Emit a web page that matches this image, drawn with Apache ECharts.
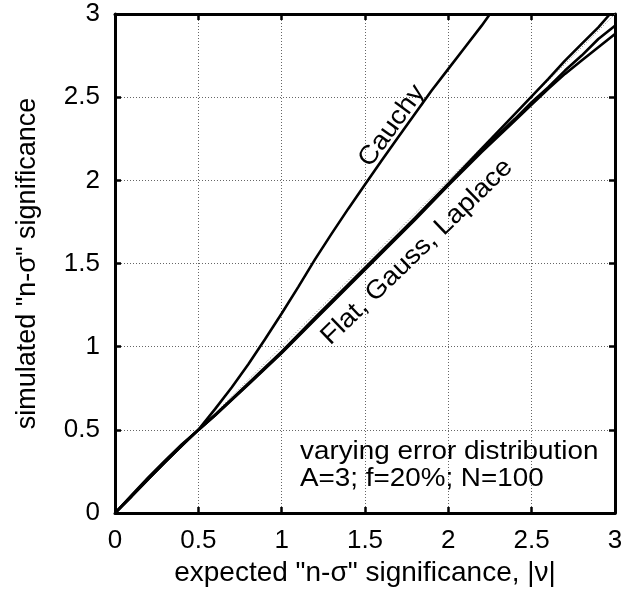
<!DOCTYPE html>
<html>
<head>
<meta charset="utf-8">
<script src="https://cdn.jsdelivr.net/npm/echarts@6/dist/echarts.min.js"></script>
<style>html,body{margin:0;padding:0;background:#fff;}#c{width:637px;height:592px;}</style>
</head>
<body>
<div id="c"></div>
<script>
// ---- data ----
const tickValues = [0, 0.5, 1, 1.5, 2, 2.5, 3];

const diagX = [0, 3];
const diagY = [0, 3];

const cauchyX = [0, 0.1, 0.2, 0.3, 0.4, 0.5, 0.6, 0.7, 0.8, 0.9, 1.0, 1.1, 1.2, 1.3, 1.4, 1.5, 1.6, 1.7, 1.8, 1.9, 2.0, 2.1, 2.2, 2.25];
const cauchyY = [0, 0.1, 0.205, 0.305, 0.405, 0.5, 0.625, 0.755, 0.895, 1.045, 1.2, 1.36, 1.525, 1.68, 1.83, 1.975, 2.12, 2.26, 2.40, 2.54, 2.67, 2.80, 2.93, 3.0];

const flatX = [0, 0.1, 0.2, 0.3, 0.4, 0.5, 0.6, 0.7, 0.8, 0.9, 1.0, 1.2, 1.4, 1.6, 1.8, 2.0, 2.2, 2.4, 2.5, 2.6, 2.7, 2.8, 2.9, 2.97];
const flatY = [0, 0.108, 0.215, 0.315, 0.412, 0.5, 0.59, 0.685, 0.78, 0.875, 0.97, 1.175, 1.375, 1.575, 1.775, 1.98, 2.19, 2.40, 2.505, 2.61, 2.72, 2.82, 2.92, 3.0];

const gaussX = [0, 0.1, 0.2, 0.3, 0.4, 0.5, 0.6, 0.7, 0.8, 0.9, 1.0, 1.2, 1.4, 1.6, 1.8, 2.0, 2.2, 2.4, 2.5, 2.6, 2.7, 2.8, 2.9, 3.0];
const gaussY = [0, 0.102, 0.205, 0.306, 0.405, 0.5, 0.588, 0.682, 0.776, 0.87, 0.965, 1.168, 1.368, 1.568, 1.768, 1.975, 2.18, 2.37, 2.47, 2.56, 2.66, 2.75, 2.85, 2.93];

const laplaceX = [0, 0.1, 0.2, 0.3, 0.4, 0.5, 0.6, 0.7, 0.8, 0.9, 1.0, 1.2, 1.4, 1.6, 1.8, 2.0, 2.2, 2.4, 2.5, 2.6, 2.7, 2.8, 2.9, 3.0];
const laplaceY = [0, 0.105, 0.21, 0.31, 0.408, 0.5, 0.586, 0.68, 0.773, 0.867, 0.962, 1.163, 1.363, 1.563, 1.763, 1.97, 2.17, 2.36, 2.455, 2.55, 2.64, 2.72, 2.80, 2.88];

const xTitle = 'expected "n-\u03c3" significance, |\u03bd|';
const yTitle = 'simulated "n-\u03c3" significance';
const cauchyLabel = 'Cauchy';
const mainLabel = 'Flat, Gauss, Laplace';
const noteLines = ['varying error distribution', 'A=3; f=20%; N=100'];

// ---- chart ----
const zip = (xs, ys) => xs.map((x, i) => [x, ys[i]]);
const FONT = 'Liberation Sans';
const chart = echarts.init(document.getElementById('c'), null, {renderer: 'canvas'});

const baseAxis = {
  min: 0, max: 3, interval: 0.5,
  axisLine: {show: true, onZero: false, lineStyle: {color: '#000', width: 3}},
  axisTick: {show: true, inside: true, length: 6, lineStyle: {color: '#000', width: 2.5}},
};

const lineSeries = (name, xs, ys) => ({
  name, type: 'line', data: zip(xs, ys), showSymbol: false, symbol: 'none',
  lineStyle: {color: '#000', width: 2.6}, z: 3, animation: false
});

const textStyle = (t, align) => ({text: t, fill: '#000', font: '26px "' + FONT + '"', textAlign: align, textVerticalAlign: 'middle'});

chart.setOption({
  animation: false,
  backgroundColor: '#fff',
  grid: {left: 115, top: 14, right: 22, bottom: 77, containLabel: false},
  xAxis: [
    Object.assign({}, baseAxis, {
      type: 'value', position: 'bottom',
      axisLabel: {color: '#000', fontFamily: FONT, fontSize: 26, margin: 15,
        formatter: v => tickValues.includes(v) ? String(v) : ''},
      splitLine: {show: true, lineStyle: {color: '#666', type: [1, 2], width: 1}},
      name: xTitle, nameLocation: 'middle', nameGap: 44,
      nameTextStyle: {color: '#000', fontFamily: FONT, fontSize: 28}
    }),
    Object.assign({}, baseAxis, {
      type: 'value', position: 'top', axisLabel: {show: false}, splitLine: {show: false}
    })
  ],
  yAxis: [
    Object.assign({}, baseAxis, {
      type: 'value', position: 'left',
      axisLabel: {color: '#000', fontFamily: FONT, fontSize: 26, margin: 15,
        formatter: v => tickValues.includes(v) ? String(v) : ''},
      splitLine: {show: true, lineStyle: {color: '#666', type: [1, 2], width: 1}},
      name: yTitle, nameLocation: 'middle', nameGap: 74, nameRotate: 90,
      nameTextStyle: {color: '#000', fontFamily: FONT, fontSize: 27}
    }),
    Object.assign({}, baseAxis, {
      type: 'value', position: 'right', axisLabel: {show: false}, splitLine: {show: false}
    })
  ],
  series: [
    {
      name: 'diagonal', type: 'line', data: zip(diagX, diagY), showSymbol: false, symbol: 'none',
      lineStyle: {color: '#777', width: 1, type: [1, 2]}, z: 2
    },
    lineSeries('Cauchy', cauchyX, cauchyY),
    lineSeries('Flat', flatX, flatY),
    lineSeries('Gauss', gaussX, gaussY),
    lineSeries('Laplace', laplaceX, laplaceY)
  ],
  graphic: [
    {type: 'text', x: 392, y: 126, rotation: 54 * Math.PI / 180, scaleX: 1.07, z: 10,
      style: textStyle(cauchyLabel, 'center')},
    {type: 'text', x: 417, y: 252, rotation: 44 * Math.PI / 180, scaleX: 1.07, z: 10,
      style: textStyle(mainLabel, 'center')},
    {type: 'text', x: 300, y: 452, scaleX: 1.07, z: 10,
      style: textStyle(noteLines[0], 'left')},
    {type: 'text', x: 300, y: 479, scaleX: 1.07, z: 10,
      style: textStyle(noteLines[1], 'left')}
  ]
});
</script>
</body>
</html>
